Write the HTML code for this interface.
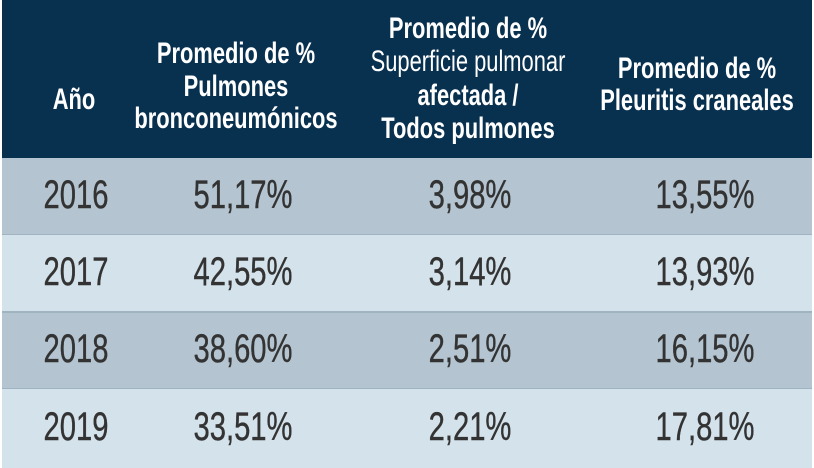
<!DOCTYPE html>
<html><head><meta charset="utf-8"><style>
body{margin:0;width:814px;height:468px;background:#fff;position:relative;overflow:hidden;font-family:"Liberation Sans",sans-serif}
.bg{position:absolute;left:2px;width:810px}
.t{position:absolute;white-space:nowrap;transform:translateX(-50%) scaleX(0.73);transform-origin:center}
.h{color:#fff;font-weight:bold;font-size:30px;line-height:33px}
.r{font-weight:normal}
.v{color:#333;font-size:40px;-webkit-text-stroke:0.4px #333}
</style></head><body>
<div class="bg" style="top:0;height:158px;background:#08304f"></div>
<div class="bg" style="top:158px;height:76px;background:#b4c5d1"></div>
<div class="bg" style="top:234px;height:1px;background:#9fb3c1"></div>
<div class="bg" style="top:235px;height:76px;background:#d4e2eb"></div>
<div class="bg" style="top:311px;height:2px;background:#9fb3c1"></div>
<div class="bg" style="top:313px;height:75px;background:#b4c5d1"></div>
<div class="bg" style="top:388px;height:1px;background:#9fb3c1"></div>
<div class="bg" style="top:389px;height:79px;background:#d4e2eb"></div>

<div class="t h" style="left:74px;top:83px">Año</div>
<div class="t h" style="left:236px;top:37px">Promedio de %</div>
<div class="t h" style="left:236px;top:70px">Pulmones</div>
<div class="t h" style="left:236px;top:102px">bronconeumónicos</div>
<div class="t h" style="left:468px;top:12px">Promedio de %</div>
<div class="t h r" style="left:468px;top:45px">Superficie pulmonar</div>
<div class="t h" style="left:468px;top:79px">afectada /</div>
<div class="t h" style="left:468px;top:112px">Todos pulmones</div>
<div class="t h" style="left:697px;top:52px">Promedio de %</div>
<div class="t h" style="left:697px;top:84px">Pleuritis craneales</div>

<div class="t v" style="left:76px;top:173px">2016</div>
<div class="t v" style="left:243px;top:173px">51,17%</div>
<div class="t v" style="left:470px;top:173px">3,98%</div>
<div class="t v" style="left:705px;top:173px">13,55%</div>
<div class="t v" style="left:76px;top:250px">2017</div>
<div class="t v" style="left:243px;top:250px">42,55%</div>
<div class="t v" style="left:470px;top:250px">3,14%</div>
<div class="t v" style="left:705px;top:250px">13,93%</div>
<div class="t v" style="left:76px;top:327px">2018</div>
<div class="t v" style="left:243px;top:327px">38,60%</div>
<div class="t v" style="left:470px;top:327px">2,51%</div>
<div class="t v" style="left:705px;top:327px">16,15%</div>
<div class="t v" style="left:76px;top:405px">2019</div>
<div class="t v" style="left:243px;top:405px">33,51%</div>
<div class="t v" style="left:470px;top:405px">2,21%</div>
<div class="t v" style="left:705px;top:405px">17,81%</div>
</body></html>
